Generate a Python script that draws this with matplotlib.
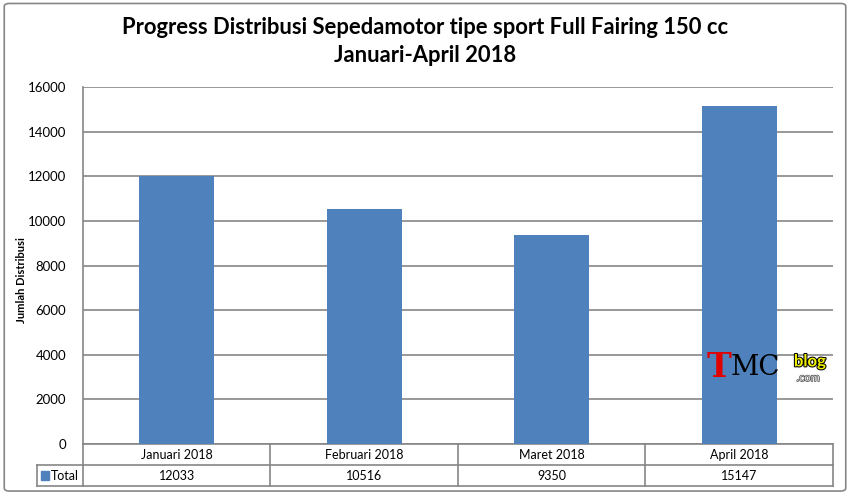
import matplotlib.pyplot as plt
import matplotlib.patheffects as pe
from matplotlib.patches import FancyBboxPatch, Rectangle
import matplotlib.transforms as mtransforms

plt.rcParams['font.family'] = ['Lato', 'DejaVu Sans']

# Data
bulan = ['Januari 2018', 'Februari 2018', 'Maret 2018', 'April 2018']
total = [12033, 10516, 9350, 15147]
yticks = [0, 2000, 4000, 6000, 8000, 10000, 12000, 14000, 16000]

bar_color = '#4F81BD'
line_color = '#868686'

fig = plt.figure(figsize=(8.5, 4.95), dpi=100)
fig.patches.append(FancyBboxPatch((0.005, 0.008), 0.99, 0.985, boxstyle='round,pad=0,rounding_size=0.006',
                                  transform=fig.transFigure, fill=False, edgecolor=line_color, lw=1.2))

ax = fig.add_axes([0.0976, 0.103, 0.8824, 0.721])
x = range(len(bulan))
ax.bar(x, total, width=0.4, color=bar_color, zorder=3)
ax.set_xlim(-0.5, len(bulan) - 0.5)
ax.set_ylim(0, 16000)
ax.set_yticks(yticks)
ax.set_yticklabels([str(v) for v in yticks], fontsize=9.5)
ax.tick_params(axis='y', length=0, pad=12)
ax.set_xticks([])
ax.grid(axis='y', color=line_color, lw=1.2, zorder=0)
for s in ['top', 'right', 'bottom']:
    ax.spines[s].set_visible(False)
ax.spines['left'].set_color(line_color)
ax.spines['left'].set_linewidth(1.2)
ax.set_ylabel('Jumlah Distribusi', fontsize=8, fontweight='bold')
ax.yaxis.set_label_coords(-0.075, 0.46)

# Data table below the plot
trans = mtransforms.blended_transform_factory(ax.transData, ax.transAxes)
rh = 21 / 357
n = len(bulan)
kw = dict(color=line_color, lw=1.2, clip_on=False, transform=trans)
ax.plot([-0.5, n - 0.5], [0, 0], **kw)
ax.plot([-0.5, n - 0.5], [-rh, -rh], **kw)
ax.plot([-0.5, n - 0.5], [-2 * rh, -2 * rh], **kw)
for k in range(n + 1):
    ax.plot([k - 0.5, k - 0.5], [0, -2 * rh], **kw)
# row header cell for legend key
hx = -0.5 - 46 / 187.5
ax.plot([hx, -0.5], [-rh, -rh], **kw)
ax.plot([hx, -0.5], [-2 * rh, -2 * rh], **kw)
ax.plot([hx, hx], [-rh, -2 * rh], **kw)
ax.add_patch(Rectangle((hx + 4 / 187.5, -1.5 * rh - 0.012), 8 / 187.5, 0.024,
                       transform=trans, color=bar_color, clip_on=False))
ax.text(hx + 14 / 187.5, -1.5 * rh, 'Total', transform=trans, fontsize=9, va='center', ha='left')
for k in range(n):
    ax.text(k, -0.5 * rh, bulan[k], transform=trans, fontsize=9, ha='center', va='center')
    ax.text(k, -1.5 * rh, str(total[k]), transform=trans, fontsize=9, ha='center', va='center')

# Title
fig.text(0.5, 0.945, 'Progress Distribusi Sepedamotor tipe sport Full Fairing 150 cc',
         fontsize=15.8, fontweight='bold', ha='center', va='center')
fig.text(0.5, 0.888, 'Januari-April 2018', fontsize=15.8, fontweight='bold', ha='center', va='center')

# Watermark logo
fig.text(0.831, 0.258, 'T', fontsize=24, color='#E00000', family='DejaVu Serif', fontweight='bold',
         ha='left', va='center')
fig.text(0.860, 0.258, 'MC', fontsize=20, color='black', family='DejaVu Serif', ha='left', va='center')
fig.text(0.934, 0.27, 'blog', fontsize=12, color='#F2F200', fontweight='bold', ha='left', va='center',
         path_effects=[pe.withStroke(linewidth=1.5, foreground='black')])
fig.text(0.937, 0.237, '.com', fontsize=8, color='#E0E0E0', ha='left', va='center',
         path_effects=[pe.withStroke(linewidth=1, foreground='#555555')])

fig.savefig('out.png', dpi=100)
